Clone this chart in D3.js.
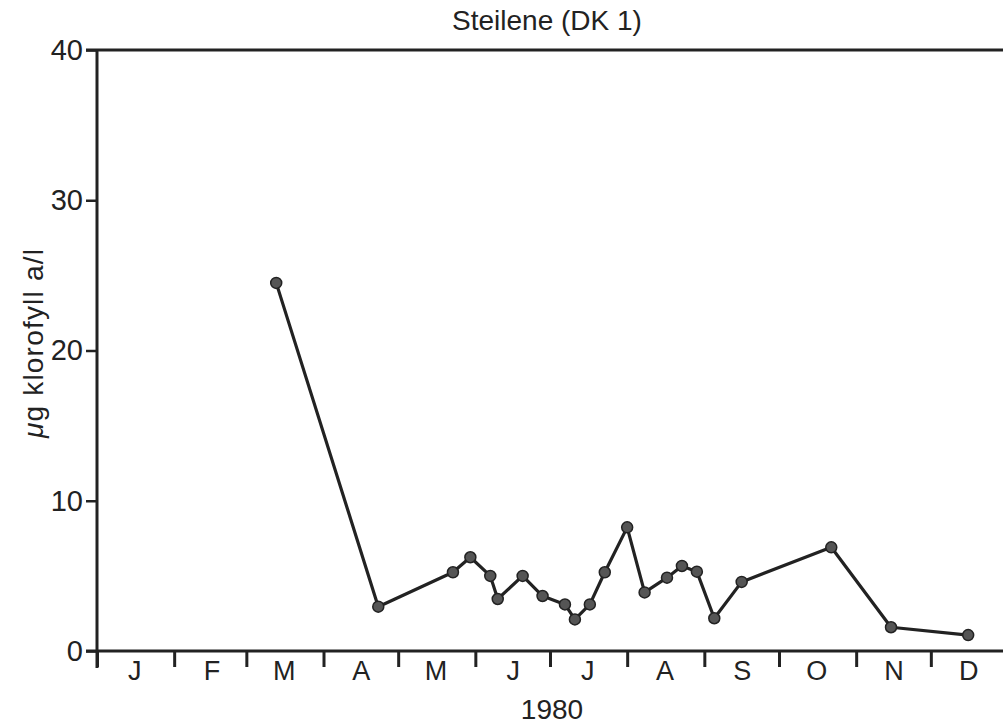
<!DOCTYPE html>
<html>
<head>
<meta charset="utf-8">
<script src="https://cdn.jsdelivr.net/npm/d3@7"></script>
<style>
  body { margin: 0; background: #fff; }
  text { font-family: "Liberation Sans", Arial, sans-serif; fill: #222; }
</style>
</head>
<body>
<svg id="chart" width="1003" height="725"></svg>
<script>
// chlorophyll samples, Steilene (DK 1), 1980
let sampleDates = ["1980-03-13","1980-04-23","1980-05-23","1980-05-30","1980-06-07","1980-06-10",
    "1980-06-20","1980-06-28","1980-07-07","1980-07-11","1980-07-17","1980-07-23",
    "1980-08-01","1980-08-08","1980-08-17","1980-08-23","1980-08-29","1980-09-05",
    "1980-09-16","1980-10-22","1980-11-15","1980-12-16"];
let chlValues = [24.5, 2.95, 5.24, 6.24, 5.0, 3.46,
    5.0, 3.66, 3.1, 2.1, 3.1, 5.24,
    8.23, 3.9, 4.88, 5.66, 5.28, 2.18,
    4.6, 6.9, 1.58, 1.06];
let monthLabels = ["J","F","M","A","M","J","J","A","S","O","N","D"];
let yTicks = [0, 10, 20, 30, 40];
let title = "Steilene (DK 1)";
let xTitle = "1980";
let yTitleUnit = "\u03bc";
let yTitle = "g klorofyll a/l";

let parse = d3.timeParse("%Y-%m-%d");
let data = sampleDates.map((d, i) => ({date: parse(d), value: chlValues[i]}));

let svg = d3.select("#chart");
let plotL = 97, plotR = 1008, plotT = 50, plotB = 651;
let ink = "#222";

let x = d3.scaleTime()
    .domain([new Date(1980, 0, 1), new Date(1981, 0, 1)])
    .range([plotL, plotR]);
let y = d3.scaleLinear().domain([0, 40]).range([plotB, plotT]);

// month boundary ticks
let xAxis = svg.append("g")
    .attr("transform", "translate(0," + plotB + ")")
    .call(d3.axisBottom(x).ticks(d3.timeMonth.every(1)).tickSize(16).tickFormat(""));
xAxis.select(".domain").remove();
xAxis.selectAll(".tick line").attr("stroke", ink).attr("stroke-width", 3);

// month letters in the middle of each month
let mids = d3.range(12).map(m => new Date(1980, m, 16));
let xLab = svg.append("g")
    .attr("transform", "translate(0," + plotB + ")")
    .call(d3.axisBottom(x).tickValues(mids).tickSize(0).tickPadding(10)
        .tickFormat((d, i) => monthLabels[i]));
xLab.select(".domain").remove();
xLab.selectAll("text").style("font-size", "27px").style("font-family", "Liberation Sans, Arial, sans-serif").attr("fill", ink);

// y axis
let yAxis = svg.append("g")
    .attr("transform", "translate(" + plotL + ",0)")
    .call(d3.axisLeft(y).tickValues(yTicks).tickSize(11).tickPadding(3));
yAxis.select(".domain").remove();
yAxis.selectAll(".tick line").attr("stroke", ink).attr("stroke-width", 2.5);
yAxis.selectAll("text").style("font-size", "29px").style("font-family", "Liberation Sans, Arial, sans-serif").attr("fill", ink);

// frame lines
svg.append("line").attr("x1", plotL).attr("x2", plotL).attr("y1", plotT - 1).attr("y2", plotB + 17)
    .attr("stroke", ink).attr("stroke-width", 3);
svg.append("line").attr("x1", plotL - 11).attr("x2", 1003).attr("y1", plotB).attr("y2", plotB)
    .attr("stroke", ink).attr("stroke-width", 3);
svg.append("line").attr("x1", plotL - 11).attr("x2", 1003).attr("y1", plotT).attr("y2", plotT)
    .attr("stroke", ink).attr("stroke-width", 3);

// series
let line = d3.line().x(d => x(d.date)).y(d => y(d.value));
svg.append("path").datum(data)
    .attr("d", line)
    .attr("fill", "none")
    .attr("stroke", ink)
    .attr("stroke-width", 3.2)
    .attr("stroke-linejoin", "round");
svg.selectAll(".dot").data(data).enter().append("circle")
    .attr("class", "dot")
    .attr("cx", d => x(d.date))
    .attr("cy", d => y(d.value))
    .attr("r", 5.5)
    .attr("fill", "#555")
    .attr("stroke", ink)
    .attr("stroke-width", 1.5);

// titles
svg.append("text").attr("x", 547).attr("y", 30).attr("text-anchor", "middle")
    .style("font-size", "28px").text(title);
svg.append("text").attr("x", 552).attr("y", 719).attr("text-anchor", "middle")
    .style("font-size", "28px").text(xTitle);
let yt = svg.append("text")
    .attr("transform", "translate(43,343) rotate(-90)")
    .attr("text-anchor", "middle")
    .style("font-size", "28px")
    .style("letter-spacing", "1.2px");
yt.append("tspan").style("font-style", "italic").text(yTitleUnit);
yt.append("tspan").text(yTitle);
</script>
</body>
</html>
